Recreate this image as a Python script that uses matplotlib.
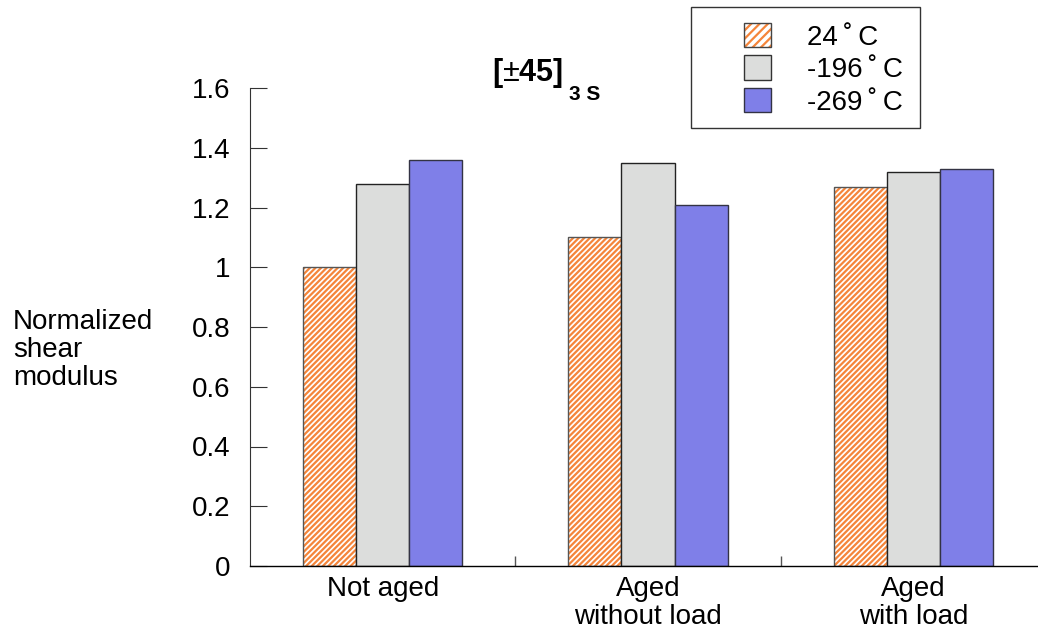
import matplotlib
matplotlib.use("Agg")
import matplotlib.pyplot as plt
from matplotlib.patches import Rectangle, Patch
from matplotlib.legend_handler import HandlerPatch
import numpy as np

plt.rcParams['font.family'] = ['Liberation Sans', 'DejaVu Sans']
plt.rcParams['mathtext.fontset'] = 'custom'
plt.rcParams['mathtext.rm'] = 'Liberation Sans'
plt.rcParams['mathtext.bf'] = 'Liberation Sans:bold'
plt.rcParams['hatch.linewidth'] = 1.6

categories = ["Not aged", "Aged\nwithout load", "Aged\nwith load"]
series_labels = ["24\u2009\u02DA\u2009C", "-196\u2009\u02DA\u2009C", "-269\u2009\u02DA\u2009C"]
values_24 = [1.00, 1.10, 1.27]
values_196 = [1.28, 1.35, 1.32]
values_269 = [1.36, 1.21, 1.33]
yticks = [0, 0.2, 0.4, 0.6, 0.8, 1, 1.2, 1.4, 1.6]
ytick_labels = ["0", "0.2", "0.4", "0.6", "0.8", "1", "1.2", "1.4", "1.6"]

ORANGE = '#F5853A'
GRAY = '#DCDDDC'
BLUE = '#7F7FE8'
FS = 20

W, H = 1038, 634
fig = plt.figure(figsize=(W / 100, H / 100), dpi=100)
ax = fig.add_axes([250 / W, (H - 566) / H, 796 / W, (566 - 88) / H])

x = np.arange(len(categories))
bw = 0.2
# hatched bars: stripes first (hatch takes the edge colour), then the outline
ax.bar(x - bw, values_24, bw, facecolor='white', edgecolor=ORANGE,
       hatch='//////', linewidth=0)
ax.bar(x - bw, values_24, bw, fill=False, edgecolor='#555555', linewidth=1.0)
ax.bar(x, values_196, bw, facecolor=GRAY, edgecolor='#222222', linewidth=1.0)
ax.bar(x + bw, values_269, bw, facecolor=BLUE, edgecolor='#333344',
       linewidth=1.0)

ax.set_xlim(-0.5, 2.5)
ax.set_ylim(0, 1.6)
ax.set_yticks(yticks)
ax.set_yticklabels(ytick_labels)
ax.set_xticks(x)
ax.set_xticklabels(categories, linespacing=1.1)
ax.set_xticks([0.5, 1.5], minor=True)

ax.tick_params(axis='y', direction='in', length=12, width=0.8, pad=14,
               labelsize=FS, color='#333333')
ax.tick_params(axis='x', which='major', length=0, pad=7, labelsize=FS)
ax.tick_params(axis='x', which='minor', direction='in', length=7, width=1.0,
               color='#555555')

for s in ('top', 'right'):
    ax.spines[s].set_visible(False)
ax.spines['left'].set_linewidth(0.8)
ax.spines['left'].set_color('#333333')
ax.spines['bottom'].set_linewidth(1.0)

fig.text(13 / W, 1 - 350 / H, "Normalized\nshear\nmodulus", ha='left',
         va='center', fontsize=FS, linespacing=1.08)

# title [±45]_3S
fig.text(492 / W, 1 - 81 / H, r'$\mathbf{[}\mathrm{\pm}\mathbf{45]}$',
         ha='left', va='baseline', fontsize=22)
fig.text(569 / W, 1 - 100 / H, "3 S", ha='left', va='baseline',
         fontsize=15, fontweight='bold')


class HatchHandler(HandlerPatch):
    def create_artists(self, legend, orig_handle, xdescent, ydescent,
                       width, height, fontsize, trans):
        stripes = Rectangle((-xdescent, -ydescent), width, height,
                            facecolor='white', edgecolor=ORANGE,
                            hatch='////', linewidth=0, transform=trans)
        outline = Rectangle((-xdescent, -ydescent), width, height,
                            fill=False, edgecolor='#444444', linewidth=1.0,
                            transform=trans)
        return [stripes, outline]


hatch_handle = Patch(facecolor='white', edgecolor='#555555')
handles = [
    hatch_handle,
    Patch(facecolor=GRAY, edgecolor='#333333', linewidth=1.0),
    Patch(facecolor=BLUE, edgecolor='#333344', linewidth=1.0),
]
fig.legend(handles, series_labels, loc='upper left',
           bbox_to_anchor=(744 / W, 1 - 23 / H), frameon=False,
           fontsize=FS, handlelength=0.97, handleheight=0.97,
           handletextpad=1.3, labelspacing=0.17, borderpad=0.0,
           borderaxespad=0.0,
           handler_map={hatch_handle: HatchHandler()})
fig.add_artist(Rectangle((691 / W, 1 - 128 / H), 229 / W, 121 / H,
                         transform=fig.transFigure, facecolor='none',
                         edgecolor='#333333', linewidth=1.0))

fig.savefig("out.png", dpi=100)
